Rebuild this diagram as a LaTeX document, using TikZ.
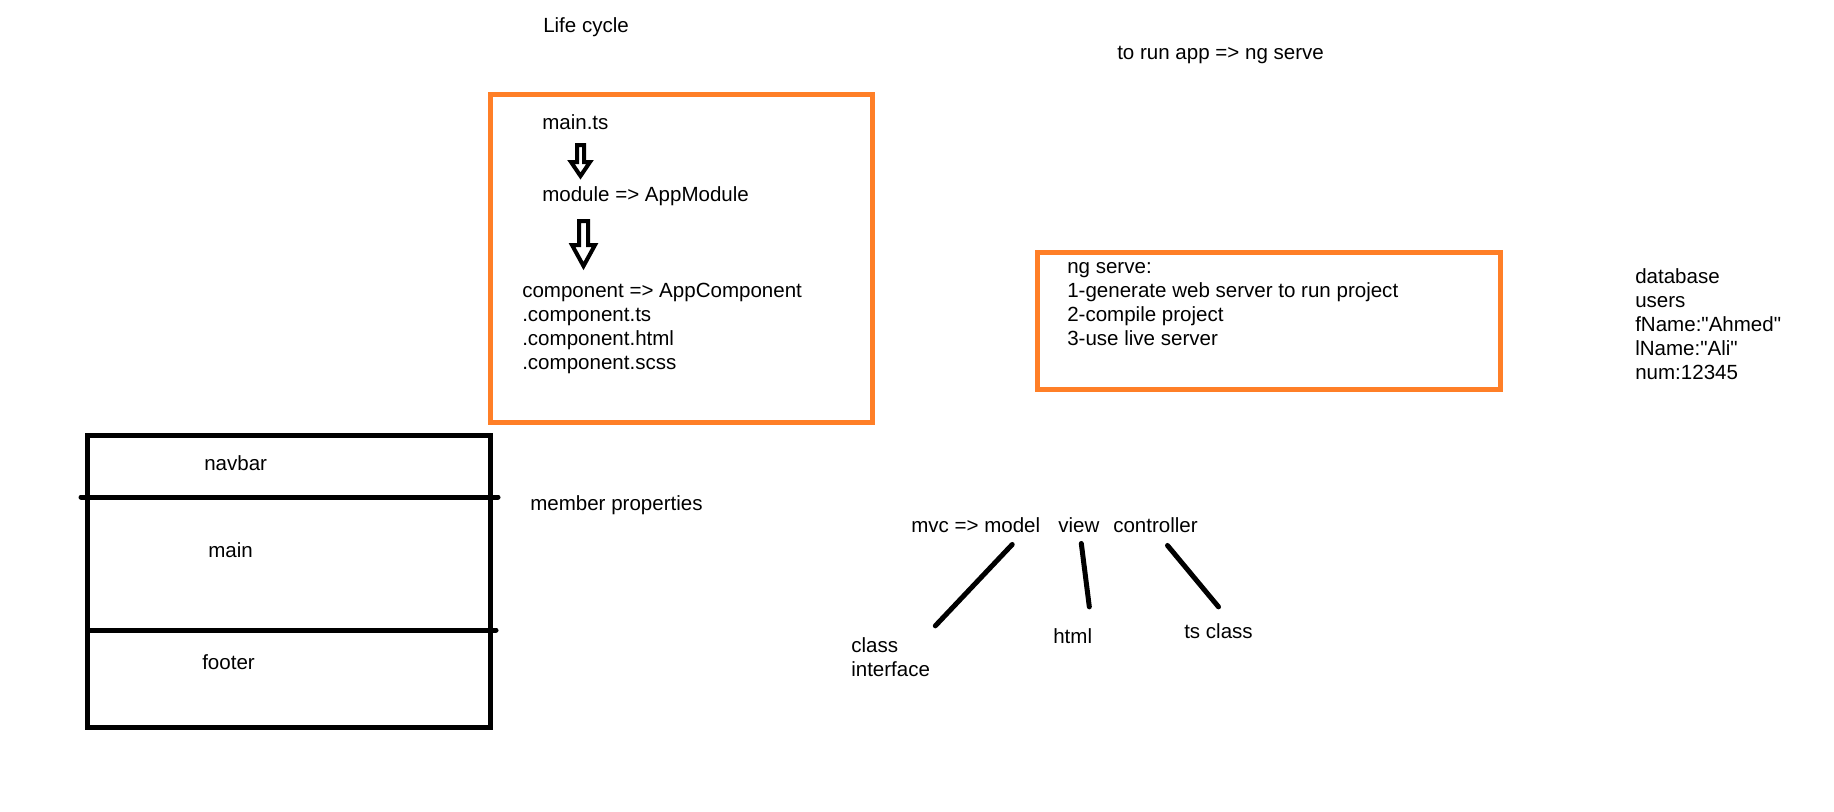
\documentclass[tikz,border=0pt]{standalone}
\usepackage{fontspec}
\setmainfont{Liberation Sans}[Ligatures=TeXOff]
\usetikzlibrary{calc}
\definecolor{paintorange}{RGB}{255,127,39}
\begin{document}
\begin{tikzpicture}[x=0.75pt,y=-0.75pt,
  txt/.style={anchor=base west, inner sep=0pt, font=\fontsize{15.4}{18}\selectfont},
  blk/.style={txt, align=left},
  orangebox/.style={draw=paintorange, line width=3.75pt, inner sep=0pt},
  layoutbox/.style={draw=black, line width=3.75pt, inner sep=0pt},
  divider/.style={draw=black, line width=3.75pt, line cap=round},
  stroke/.style={draw=black, line width=3.75pt, line cap=round},
  blockarrow/.style={draw=black, line width=3pt, line join=miter}]
\useasboundingbox (0,0) rectangle (1834,811);

% titles
\node[txt] (life) at (543,32) {Life cycle};
\node[txt] (torun) at (1117,59) {to run app => ng serve};

% life cycle box
\node[orangebox, minimum width=286.5pt, minimum height=246pt] (lifebox) at (681.5,258.5) {};
\node[txt] (maints) at (542,129) {main.ts};
\node[txt] (module) at (542,201) {module => AppModule};
\node[blk] (component) at (522,369) {component => AppComponent\\.component.ts\\.component.html\\.component.scss};
\draw[blockarrow] (577,145) -- (584,145) -- (584,162) -- (590,162) -- (580.5,176) -- (571,162) -- (577,162) -- cycle;
\draw[blockarrow] (579,221) -- (588,221) -- (588,245) -- (595,245) -- (583.5,266) -- (572,245) -- (579,245) -- cycle;

% ng serve box
\node[orangebox, minimum width=346.9pt, minimum height=102.4pt] (servebox) at (1269.25,321.25) {};
\node[blk] (serve) at (1067,345) {ng serve:\\1-generate web server to run project\\2-compile project\\3-use live server};

% database
\node[blk] (db) at (1635,379) {database\\users\\fName:"Ahmed"\\lName:"Ali"\\num:12345};

% page layout
\node[layoutbox, minimum width=302.6pt, minimum height=219pt] (page) at (289.25,581.5) {};
\draw[divider] (81,497) -- (498,497);
\draw[divider] (88,630) -- (496,630);
\node[txt] (navbar) at (204,470) {navbar};
\node[txt] (mainpart) at (208,557) {main};
\node[txt] (footer) at (202,669) {footer};
\node[txt] (member) at (530,510) {member properties};

% mvc
\node[txt] (mvc) at (911,532) {mvc =>};
\node[txt] (model) at (984,532) {model};
\node[txt] (view) at (1058,532) {view};
\node[txt] (controller) at (1113,532) {controller};
\node[blk] (clsint) at (851,676) {class\\interface};
\node[txt] (html) at (1053,643) {html};
\node[txt] (tscls) at (1184,638) {ts class};
\draw[stroke] ($(model.south)+(0,12)$) -- ($(clsint.north east)+(5,-11)$);
\draw[stroke] ($(view.south)+(2.5,11)$) -- ($(html.north east)+(-3,-21)$);
\draw[stroke] ($(controller.south)+(12,13)$) -- ($(tscls.north)+(0,-16)$);
\end{tikzpicture}
\end{document}
